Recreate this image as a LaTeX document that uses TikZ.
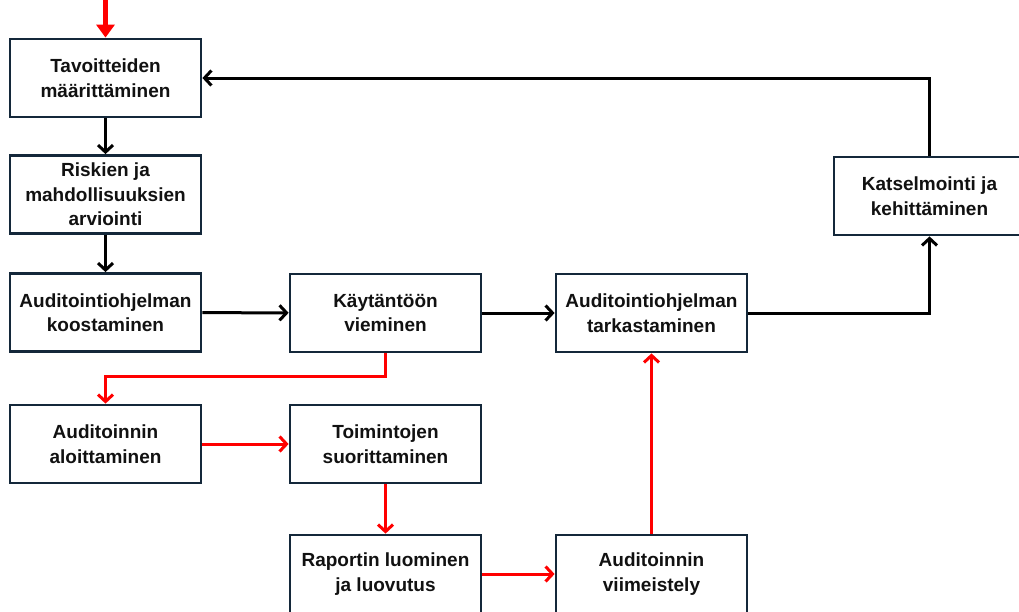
\documentclass[tikz,border=0pt]{standalone}
\usepackage{fontspec}
\setmainfont{Liberation Sans}
\usetikzlibrary{arrows.meta}
\definecolor{boxline}{HTML}{14283A}
\definecolor{txt}{HTML}{111111}
\definecolor{flowred}{HTML}{FF0000}
\begin{document}
\begin{tikzpicture}[x=1pt,y=-1pt,
  stepbox/.style={draw=boxline,line width=2.8pt,fill=white,minimum width=191pt,minimum height=78pt,
    inner sep=0pt,align=center,text=txt,font=\fontsize{19}{24.5}\selectfont\bfseries},
  blackflow/.style={draw=black,line width=3pt,-{Straight Barb[length=7pt,width=15pt]}},
  redflow/.style={draw=flowred,line width=3pt,-{Straight Barb[length=7pt,width=15pt]}},
  startflow/.style={draw=flowred,line width=4.5pt,-{Triangle[length=13pt,width=18pt]}}]
\useasboundingbox (0,0) rectangle (1019,611);

% process steps
\node[stepbox] (t1)  at (105.5,78)  {Tavoitteiden\\määrittäminen};
\node[stepbox] (t2)  at (105.5,194.5) {Riskien ja\\mahdollisuuksien\\arviointi};
\node[stepbox] (t3)  at (105.5,312.5) {Auditointiohjelman\\koostaminen};
\node[stepbox] (t4)  at (385.5,313) {Käytäntöön\\vieminen};
\node[stepbox] (t5)  at (651.5,313) {Auditointiohjelman\\tarkastaminen};
\node[stepbox] (t6)  at (929.5,196) {Katselmointi ja\\kehittäminen};
\node[stepbox] (t7)  at (105.5,444) {Auditoinnin\\aloittaminen};
\node[stepbox] (t8)  at (385.5,444) {Toimintojen\\suorittaminen};
\node[stepbox] (t9)  at (385.5,574) {Raportin luominen\\ja luovutus};
\node[stepbox] (t10) at (651.5,574) {Auditoinnin\\viimeistely};

% entry point
\coordinate (start) at (105.5,0);
\draw[startflow] (start) -- (t1.north);

% programme cycle
\draw[blackflow] (t1) -- (t2);
\draw[blackflow] (t2) -- (t3);
\draw[blackflow] (t3) -- (t4);
\draw[blackflow] (t4) -- (t5);
\draw[blackflow] (t5.east) -| (t6.south);
\draw[blackflow] (t6.north) |- (t1.east);

% single audit
\draw[redflow] (t4.south) -- ++(0,23) -| (t7.north);
\draw[redflow] (t7) -- (t8);
\draw[redflow] (t8) -- (t9);
\draw[redflow] (t9) -- (t10);
\draw[redflow] (t10) -- (t5);
\end{tikzpicture}
\end{document}
